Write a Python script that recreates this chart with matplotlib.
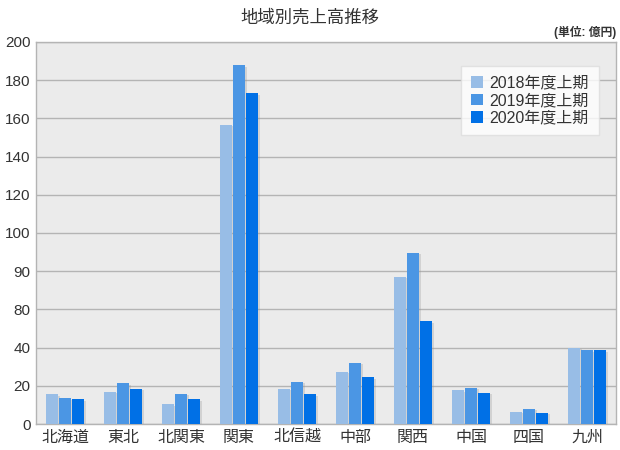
import matplotlib
matplotlib.use("Agg")
import matplotlib.pyplot as plt
import matplotlib.patheffects as pe
import numpy as np

plt.rcParams['font.family'] = ['Liberation Sans', 'Noto Sans CJK JP', 'DejaVu Sans']

categories = ['北海道', '東北', '北関東', '関東', '北信越', '中部', '関西', '中国', '四国', '九州']
series_names = ['2018年度上期', '2019年度上期', '2020年度上期']
v2018 = [15.6, 16.8, 10.4, 156.8, 18.3, 27.4, 77.2, 17.7, 6.3, 40.0]
v2019 = [13.5, 21.4, 15.8, 187.7, 22.1, 31.9, 89.5, 18.8, 7.9, 38.6]
v2020 = [13.0, 18.3, 13.0, 173.2, 15.6, 24.4, 53.7, 16.3, 6.0, 38.6]
ytick_values = [0, 20, 40, 60, 80, 100, 120, 140, 160, 180, 200]
ytick_labels = ['0', '20', '40', '80', '90', '100', '120', '140', '160', '180', '200']
colors = ['#98bde6', '#4b96e4', '#0070e6']
text_color = '#333333'

fig = plt.figure(figsize=(6.2, 4.5), dpi=100)
ax = fig.add_axes([36/620, 26/450, 580/620, 382/450])
ax.set_facecolor('#ebebeb')

x = np.arange(len(categories))
width = 0.19
step = 0.224
shadow = [pe.SimplePatchShadow(offset=(2, -1), shadow_rgbFace='#999999', alpha=0.3), pe.Normal()]
for i, (vals, name) in enumerate(zip([v2018, v2019, v2020], series_names)):
    ax.bar(x + (i - 1) * step, vals, width, color=colors[i], label=name,
           zorder=3, path_effects=shadow)

ax.set_xlim(-0.5, len(categories) - 0.5)
ax.set_ylim(0, 200)
ax.set_yticks(ytick_values)
ax.set_yticklabels(ytick_labels, fontsize=11, color=text_color)
ax.set_xticks(x)
ax.set_xticklabels(categories, fontsize=11.5, color=text_color)
ax.tick_params(axis='both', length=0, pad=4)
ax.tick_params(axis='y', pad=4)
ax.yaxis.grid(True, color='#b4b4b4', linewidth=1.0, zorder=1)
ax.set_axisbelow(True)
for s in ax.spines.values():
    s.set_color('#b4b4b4')
    s.set_linewidth(1.0)

leg = ax.legend(loc='upper left', bbox_to_anchor=((461-36)/580, (424-66)/382),
                borderaxespad=0, fontsize=11.5, frameon=True, fancybox=False,
                handlelength=0.75, handleheight=0.75, handletextpad=0.45,
                labelspacing=0.15, borderpad=0.6)
leg.get_frame().set_facecolor('white')
leg.get_frame().set_edgecolor('#dddddd')
for h in leg.legend_handles:
    h.set_path_effects([])
for t in leg.get_texts():
    t.set_color(text_color)

fig.text(310/620, 1 - 17/450, '地域別売上高推移', ha='center', va='center',
         fontsize=12.5, color=text_color)
fig.text(616/620, 1 - 32/450, '(単位: 億円)', ha='right', va='center',
         fontsize=8.5, color=text_color, fontweight='bold')

fig.savefig('out.png', dpi=100)
